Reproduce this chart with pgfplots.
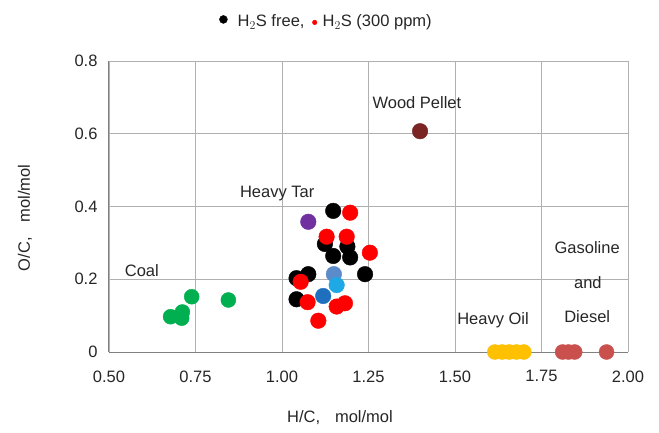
\documentclass[border=0pt]{standalone}
\usepackage{fontspec}
\setmainfont{Liberation Sans}
\usepackage{pgfplots}
\pgfplotsset{compat=1.18}
\definecolor{gridgray}{HTML}{B0B0B0}
\definecolor{axisgray}{HTML}{808080}
\definecolor{txt}{HTML}{262626}
\definecolor{coalgreen}{HTML}{00B050}
\definecolor{tarpurple}{HTML}{7030A0}
\definecolor{steelb}{HTML}{5B8BC9}
\definecolor{lightb}{HTML}{1EA8E6}
\definecolor{midb}{HTML}{1F6FBF}
\definecolor{woodred}{HTML}{7A2424}
\definecolor{oilyellow}{HTML}{FFC000}
\definecolor{dieselred}{HTML}{C9504D}
\pgfplotsset{
  legA/.style={legend image code/.code={\path (-4pt,-6pt) (14pt,6pt); \draw[##1] plot coordinates {(0pt,2pt)};}},
  legB/.style={legend image code/.code={\path (-10pt,-6pt) (7.7pt,6pt); \draw[##1] plot coordinates {(0pt,-1pt)};}},
}
\begin{document}
\begin{tikzpicture}[font=\fontsize{16.5}{19.8}\selectfont, text=txt]
\begin{axis}[
  at={(0pt,0pt)}, anchor=south west,
  scale only axis, width=519pt, height=291pt,
  xmin=0.5, xmax=2.0, ymin=0, ymax=0.8,
  xtick={0.5,0.75,1.0,1.25,1.5,1.75,2.0},
  ytick={0,0.2,0.4,0.6,0.8},
  grid=major, grid style={draw=gridgray, line width=0.9pt},
  axis lines=left, axis line style={draw=axisgray, line width=1pt, -},
  major tick length=0pt,
  /pgf/number format/assume math mode=true,
  xticklabel style={/pgf/number format/fixed, /pgf/number format/fixed zerofill, /pgf/number format/precision=2, yshift=-15pt},
  yticklabel style={/pgf/number format/fixed, /pgf/number format/precision=1, xshift=-8pt},
  ticklabel style={font=\fontsize{16.5}{19.8}\selectfont, text=txt},
  clip=false,
  legend style={draw=none, fill=none, at={(0.212,1.136)}, anchor=west,
    inner sep=0pt, nodes={inner xsep=0pt, inner ysep=1pt},
    font=\fontsize{16.5}{19.8}\selectfont, text=txt,
    /tikz/every even column/.append style={column sep=0pt}},
  legend columns=2,
]
% H2S free (black)
\addplot[only marks, mark=*, mark size=7.8pt, mark options={draw=black, fill=black}, forget plot] coordinates {
(1.148,0.388) (1.124,0.297) (1.189,0.290) (1.148,0.264) (1.197,0.260)
(1.240,0.214) (1.076,0.214) (1.042,0.203) (1.042,0.145)
};
% other blue points
\addplot[only marks, mark=*, mark size=7.8pt, mark options={draw=steelb, fill=steelb}, forget plot] coordinates {(1.150,0.214)};
\addplot[only marks, mark=*, mark size=7.8pt, mark options={draw=lightb, fill=lightb}, forget plot] coordinates {(1.158,0.184)};
\addplot[only marks, mark=*, mark size=7.8pt, mark options={draw=midb, fill=midb}, forget plot] coordinates {(1.119,0.154)};
% Heavy tar (purple)
\addplot[only marks, mark=*, mark size=7.8pt, mark options={draw=tarpurple, fill=tarpurple}, forget plot] coordinates {(1.076,0.358)};
% H2S 300 ppm (red)
\addplot[only marks, mark=*, mark size=7.8pt, mark options={draw=red, fill=red}, forget plot] coordinates {
(1.197,0.383) (1.129,0.317) (1.187,0.317) (1.254,0.273) (1.054,0.193)
(1.074,0.137) (1.158,0.125) (1.182,0.134) (1.105,0.086)
};
% Coal
\addplot[only marks, mark=*, mark size=7.5pt, mark options={draw=coalgreen, fill=coalgreen}, forget plot] coordinates {
(0.739,0.152) (0.845,0.143) (0.712,0.110) (0.678,0.097) (0.710,0.093)
};
% Wood pellet
\addplot[only marks, mark=*, mark size=7.8pt, mark options={draw=woodred, fill=woodred}, forget plot] coordinates {(1.399,0.607)};
% Heavy oil
\addplot[only marks, mark=*, mark size=7.5pt, mark options={draw=oilyellow, fill=oilyellow}, forget plot] coordinates {
(1.615,0) (1.636,0) (1.657,0) (1.678,0) (1.699,0)
};
% Gasoline and diesel
\addplot[only marks, mark=*, mark size=7.5pt, mark options={draw=dieselred, fill=dieselred}, forget plot] coordinates {
(1.811,0) (1.828,0) (1.846,0) (1.938,0)
};
% legend
\addlegendimage{only marks, mark=*, mark size=4pt, mark options={draw=black, fill=black}, legA}
\addlegendentry{H$_2$S free,}
\addlegendimage{only marks, mark=*, mark size=2.3pt, mark options={draw=red, fill=red}, legB}
\addlegendentry{H$_2$S (300 ppm)}
% labels
\node at (axis cs:1.390,0.687) {Wood Pellet};
\node at (axis cs:0.986,0.437) {Heavy Tar};
\node at (axis cs:0.595,0.225) {Coal};
\node at (axis cs:1.610,0.088) {Heavy Oil};
\node at (axis cs:1.882,0.286) {Gasoline};
\node at (axis cs:1.884,0.190) {and};
\node at (axis cs:1.882,0.096) {Diesel};
\end{axis}
\node at (231pt,-66pt) {H/C,\hspace{0.9em}mol/mol};
\node[rotate=90] at (-84pt,134pt) {O/C,\hspace{0.9em}mol/mol};
\pgfresetboundingbox
\path[use as bounding box] (-109pt,-80pt) rectangle (550pt,352pt);
\end{tikzpicture}
\end{document}
